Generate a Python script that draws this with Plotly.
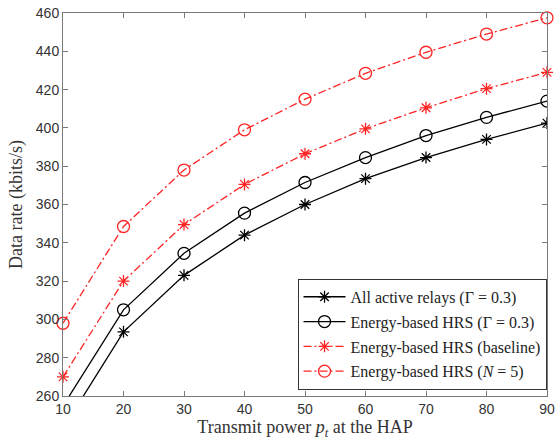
import plotly.graph_objects as go

power = [10, 20, 30, 40, 50, 60, 70, 80, 90]
all_active = [243, 293.5, 323, 344, 360, 373.5, 384.5, 394, 402.5]
energy_hrs = [254.8, 305, 334.5, 355.5, 371.5, 384.5, 396, 405.5, 414]
energy_baseline = [270, 320, 349.5, 370.5, 386.5, 399.5, 410.5, 420.5, 429]
energy_n5 = [298, 348.5, 378, 399, 415, 428.5, 439.5, 449, 457.5]

names = [
    "All active relays (Γ = 0.3)",
    "Energy-based HRS (Γ = 0.3)",
    "Energy-based HRS (baseline)",
    "Energy-based HRS (<i>N</i> = 5)",
]

RED = "#ff2424"
DASHDOT = "8px,3px,2px,3px"
SERIF = "Liberation Serif, DejaVu Serif, serif"
fig = go.Figure()
fig.add_trace(go.Scatter(x=power, y=all_active, name=names[0], legendgroup="a", mode="lines+markers",
                         line=dict(color="black", width=1.3),
                         marker=dict(symbol="asterisk-open", size=10, line=dict(color="black", width=1.3))))
fig.add_trace(go.Scatter(x=power, y=energy_hrs, name=names[1], legendgroup="b", mode="lines+markers",
                         line=dict(color="black", width=1.3),
                         marker=dict(symbol="circle-open", size=12, color="black", line=dict(color="black", width=1.3))))
fig.add_trace(go.Scatter(x=power, y=energy_baseline, name=names[2], legendgroup="c", mode="lines+markers",
                         cliponaxis=False,
                         line=dict(color=RED, width=1.3, dash=DASHDOT),
                         marker=dict(symbol="asterisk-open", size=10, line=dict(color=RED, width=1.3))))
fig.add_trace(go.Scatter(x=power, y=energy_n5, name=names[3], legendgroup="d", mode="lines+markers",
                         cliponaxis=False,
                         line=dict(color=RED, width=1.3, dash=DASHDOT),
                         marker=dict(symbol="circle-open", size=12, color=RED, line=dict(color=RED, width=1.3))))

axis_common = dict(showline=True, linecolor="#7a7a7a", linewidth=1, mirror="allticks",
                   ticks="inside", ticklen=5, tickcolor="#7a7a7a", showgrid=False, zeroline=False,
                   automargin=False,
                   tickfont=dict(family="Liberation Sans, Arial", size=14, color="#333333"))

fig.update_layout(
    width=556, height=443,
    margin=dict(l=63, r=9, t=13, b=47),
    plot_bgcolor="white", paper_bgcolor="white",
    xaxis=dict(range=[10, 90], dtick=10, tick0=10,
               title=dict(text="Transmit power <i>p</i><sub><i>t</i></sub> at the HAP", standoff=4,
                          font=dict(family=SERIF, size=18, color="#333333")),
               **axis_common),
    yaxis=dict(range=[260, 460], dtick=20,
               title=dict(text="Data rate (kbits/s)", standoff=8,
                          font=dict(family=SERIF, size=18, color="#333333")),
               **axis_common),
    legend=dict(x=0.999, y=0.016, xanchor="right", yanchor="bottom",
                bgcolor="white", bordercolor="#333333", borderwidth=1,
                font=dict(family=SERIF, size=16, color="#222222"),
                itemwidth=42, traceorder="grouped", tracegroupgap=1),
    showlegend=True,
)

fig.write_html("out.html", config={"displayModeBar": False},
               post_script="document.body.style.margin='0';document.body.style.overflow='hidden';")
